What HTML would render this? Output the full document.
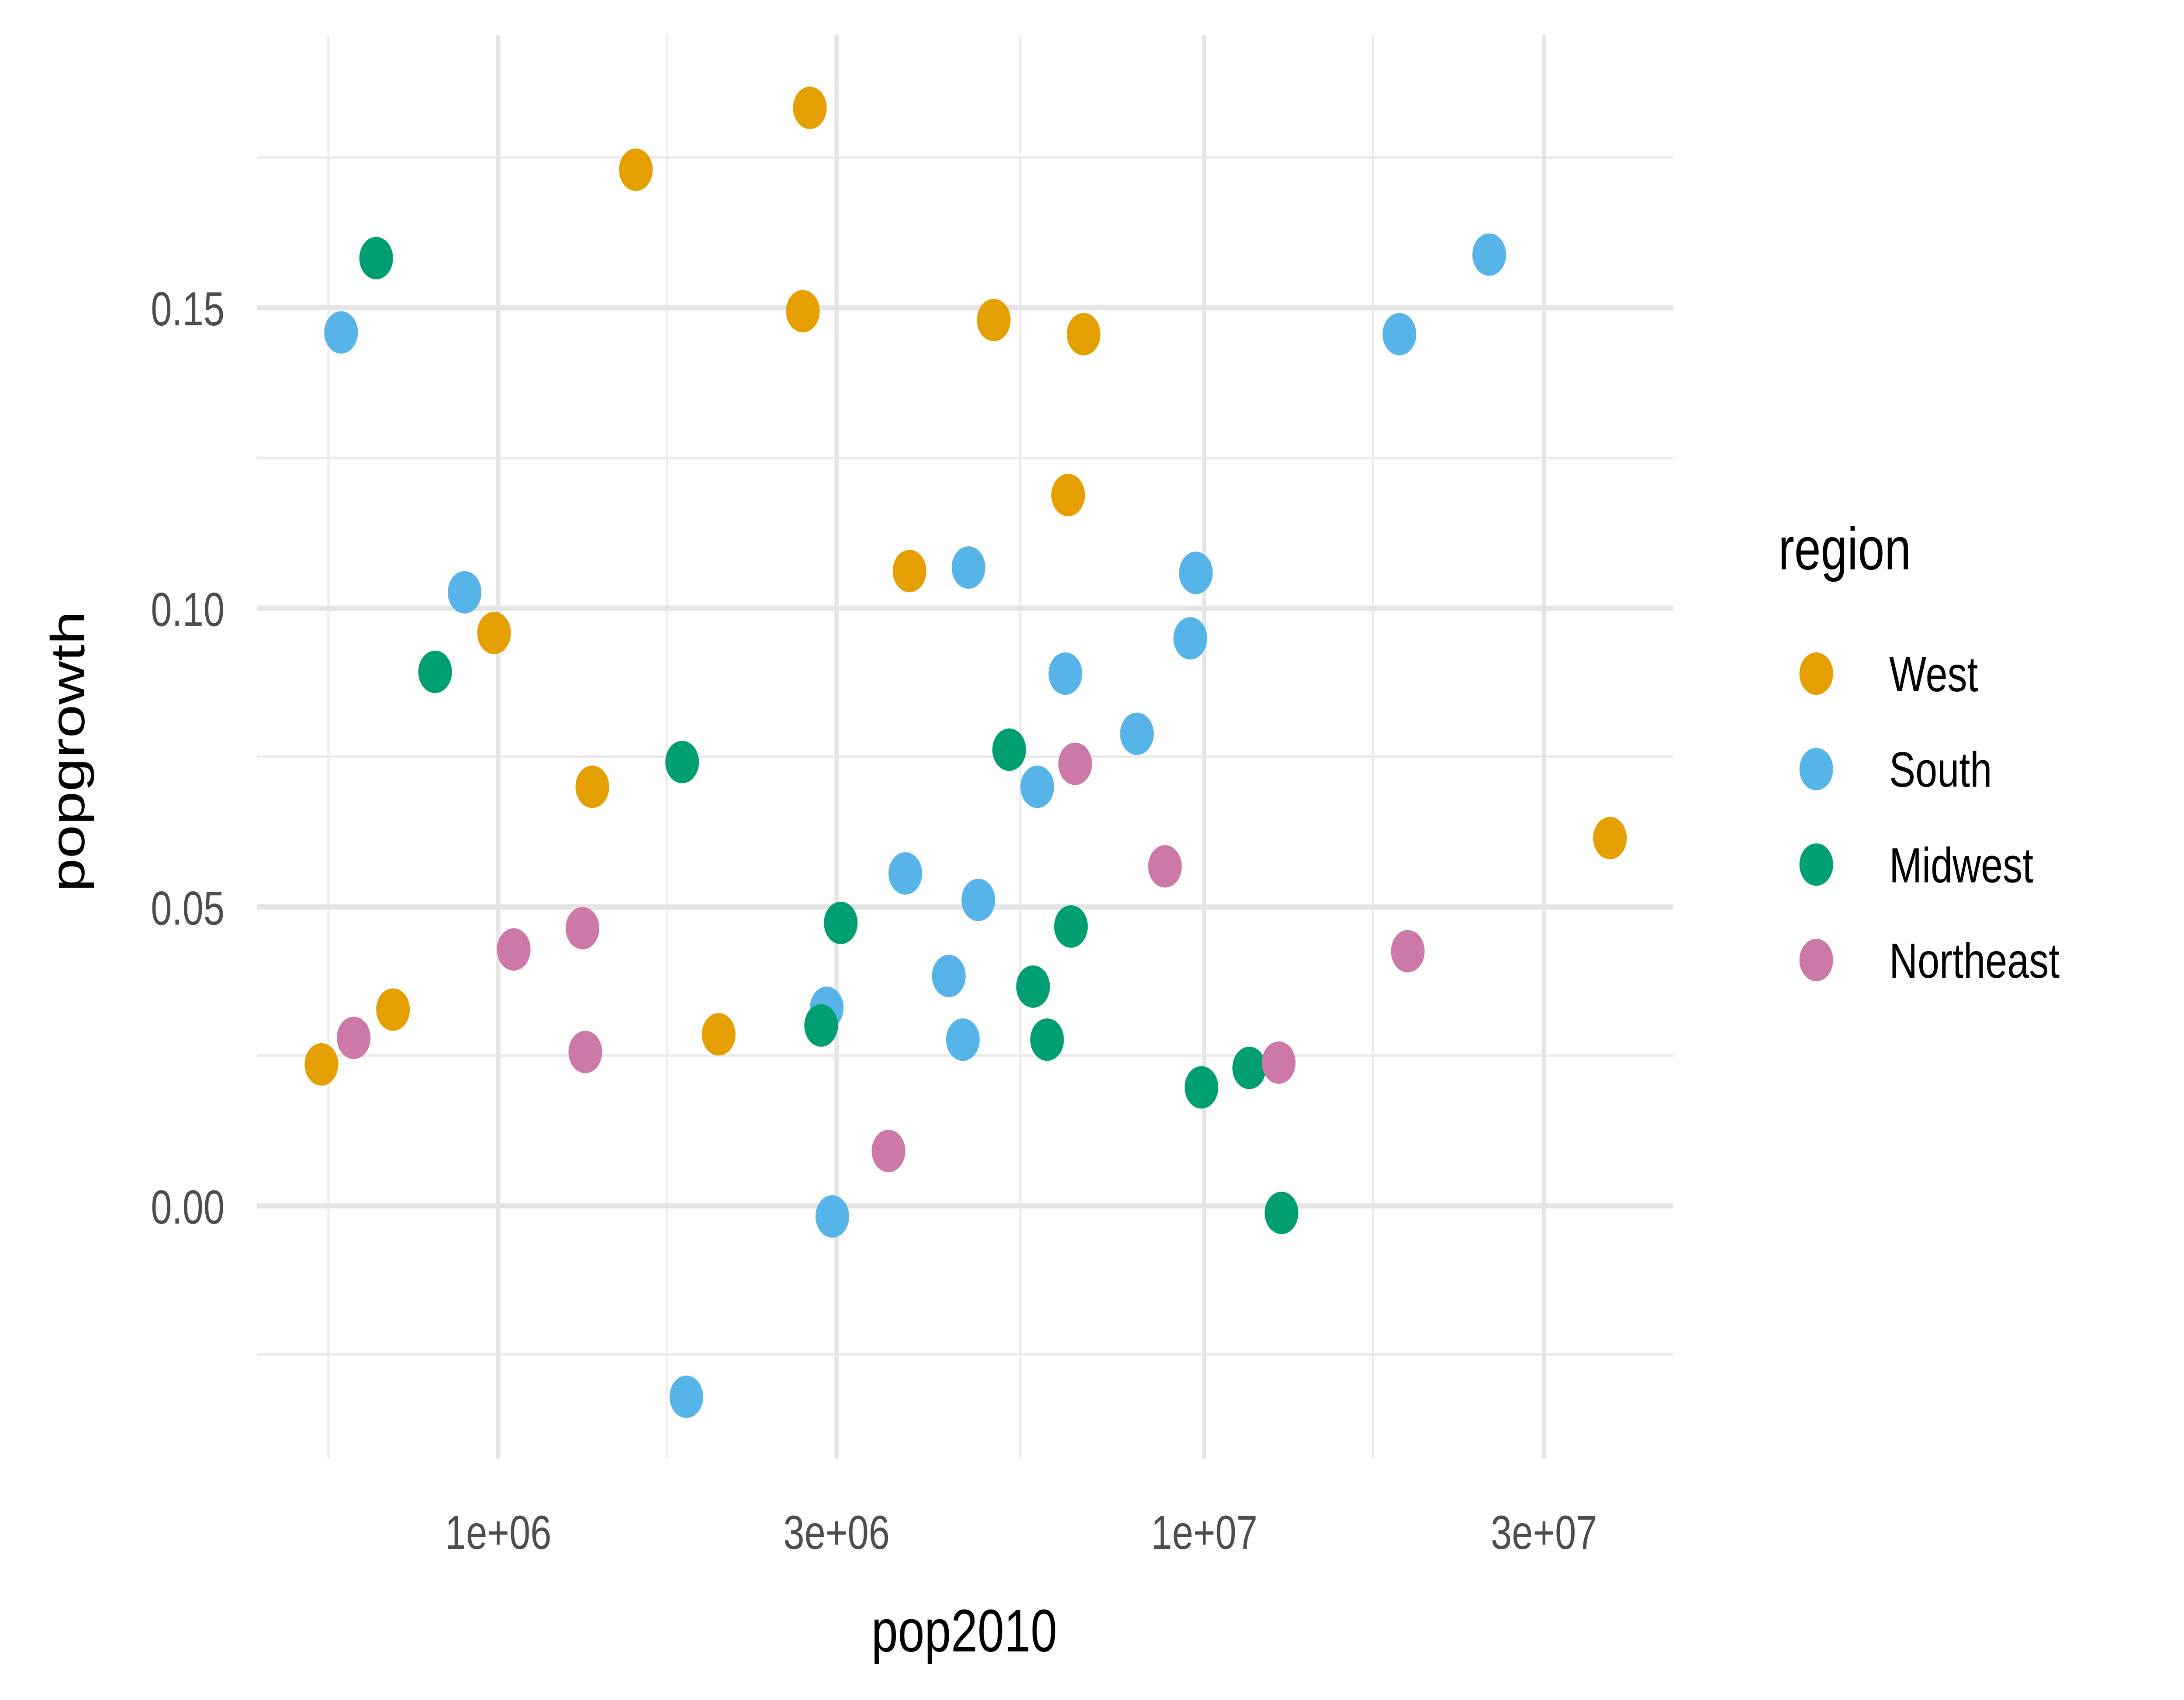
<!DOCTYPE html>
<html><head><meta charset="utf-8"><style>
html,body{margin:0;padding:0;background:#fff;width:100%;height:100%;overflow:hidden}
svg{display:block;position:fixed;left:0;top:0;width:100vw;height:100vh}
text{font-family:"Liberation Sans",Arial,sans-serif}
</style></head><body>
<svg viewBox="0 0 1556 961.5" preserveAspectRatio="none" xmlns="http://www.w3.org/2000/svg">
<rect width="1556" height="961.5" fill="#fff"/>
<g stroke="#ebebeb" stroke-width="1.5">
<line x1="183" x2="1192" y1="89" y2="89"/><line x1="183" x2="1192" y1="259" y2="259"/>
<line x1="183" x2="1192" y1="428" y2="428"/><line x1="183" x2="1192" y1="597" y2="597"/>
<line x1="183" x2="1192" y1="766" y2="766"/>
<line x1="234" x2="234" y1="20" y2="825"/><line x1="475" x2="475" y1="20" y2="825"/>
<line x1="727" x2="727" y1="20" y2="825"/><line x1="978" x2="978" y1="20" y2="825"/>
</g>
<g stroke="#e5e5e5" stroke-width="3">
<line x1="183" x2="1192" y1="174" y2="174"/><line x1="183" x2="1192" y1="344" y2="344"/>
<line x1="183" x2="1192" y1="513" y2="513"/><line x1="183" x2="1192" y1="682" y2="682"/>
<line x1="355" x2="355" y1="20" y2="825"/><line x1="596" x2="596" y1="20" y2="825"/>
<line x1="858" x2="858" y1="20" y2="825"/><line x1="1100" x2="1100" y1="20" y2="825"/>
</g>
<g font-size="27" fill="#4d4d4d" text-anchor="end">
<text x="160" y="184">0.15</text><text x="160" y="354">0.10</text>
<text x="160" y="523">0.05</text><text x="160" y="692">0.00</text>
</g>
<g font-size="27" fill="#4d4d4d" text-anchor="middle">
<text x="355" y="876">1e+06</text><text x="596" y="876">3e+06</text>
<text x="858" y="876">1e+07</text><text x="1100" y="876">3e+07</text>
</g>
<text x="687" y="934" font-size="34" text-anchor="middle" fill="#000">pop2010</text>
<text transform="translate(60,425) rotate(-90)" font-size="34" text-anchor="middle" fill="#000">popgrowth</text>
<g fill="#E69F00">
<circle cx="577" cy="61" r="12"/><circle cx="453" cy="96" r="12"/><circle cx="572" cy="176" r="12"/><circle cx="708" cy="181" r="12"/><circle cx="772" cy="189" r="12"/><circle cx="761" cy="280" r="12"/><circle cx="648" cy="323" r="12"/><circle cx="352" cy="358" r="12"/><circle cx="422" cy="445" r="12"/><circle cx="280" cy="571" r="12"/><circle cx="229" cy="602" r="12"/><circle cx="512" cy="585" r="12"/><circle cx="1147" cy="474" r="12"/>
</g>
<g fill="#56B4E9">
<circle cx="243" cy="188" r="12"/><circle cx="1061" cy="144" r="12"/><circle cx="997" cy="189" r="12"/><circle cx="331" cy="335" r="12"/><circle cx="690" cy="321" r="12"/><circle cx="852" cy="324" r="12"/><circle cx="848" cy="361" r="12"/><circle cx="759" cy="381" r="12"/><circle cx="810" cy="415" r="12"/><circle cx="739" cy="445" r="12"/><circle cx="645" cy="494" r="12"/><circle cx="697" cy="509" r="12"/><circle cx="676" cy="552" r="12"/><circle cx="589" cy="570" r="12"/><circle cx="686" cy="588" r="12"/><circle cx="593" cy="688" r="12"/><circle cx="489" cy="790" r="12"/>
</g>
<g fill="#009E73">
<circle cx="268" cy="146" r="12"/><circle cx="310" cy="380" r="12"/><circle cx="486" cy="431" r="12"/><circle cx="719" cy="424" r="12"/><circle cx="599" cy="522" r="12"/><circle cx="763" cy="524" r="12"/><circle cx="736" cy="558" r="12"/><circle cx="585" cy="580" r="12"/><circle cx="746" cy="588" r="12"/><circle cx="856" cy="615" r="12"/><circle cx="890" cy="604" r="12"/><circle cx="913" cy="686" r="12"/>
</g>
<g fill="#CC79A7">
<circle cx="252" cy="587" r="12"/><circle cx="366" cy="537" r="12"/><circle cx="415" cy="525" r="12"/><circle cx="417" cy="595" r="12"/><circle cx="766" cy="432" r="12"/><circle cx="830" cy="490" r="12"/><circle cx="1003" cy="538" r="12"/><circle cx="911" cy="601" r="12"/><circle cx="633" cy="651" r="12"/>
</g>
<text x="1267" y="322" font-size="34" fill="#000">region</text>
<circle cx="1294" cy="381" r="12" fill="#E69F00"/><circle cx="1294" cy="435" r="12" fill="#56B4E9"/>
<circle cx="1294" cy="489" r="12" fill="#009E73"/><circle cx="1294" cy="543" r="12" fill="#CC79A7"/>
<g font-size="28" fill="#000">
<text x="1346" y="391">West</text><text x="1346" y="445">South</text>
<text x="1346" y="499">Midwest</text><text x="1346" y="553">Northeast</text>
</g>
</svg>
</body></html>
